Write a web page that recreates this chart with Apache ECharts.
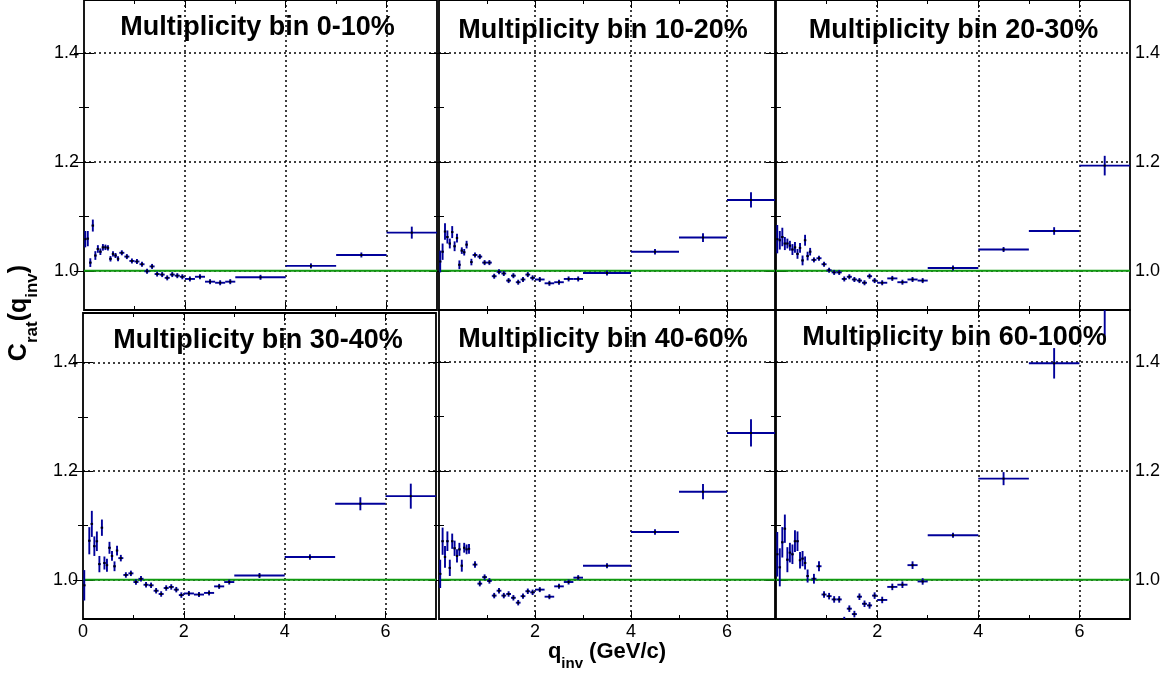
<!DOCTYPE html>
<html>
<head>
<meta charset="utf-8">
<script src="https://cdn.jsdelivr.net/npm/echarts@6/dist/echarts.min.js"></script>
<style>
  html, body { margin: 0; padding: 0; background: #ffffff; }
  #chart { width: 1168px; height: 675px; }
</style>
</head>
<body>
<div id="chart"></div>
<script>
// q_inv bin centres (GeV/c) and bin half-widths
const binCenters = [
  0.025, 0.075, 0.125, 0.175, 0.225, 0.275, 0.325, 0.375, 0.425, 0.475, 0.525, 0.575, 0.625, 0.675,
  0.75, 0.85, 0.95, 1.05, 1.15, 1.25, 1.35, 1.45, 1.55, 1.65, 1.75, 1.85, 1.95,
  2.1, 2.3, 2.5, 2.7, 2.9,
  3.5, 4.5, 5.5, 6.5
];
const binHalfWidths = [
  0.025, 0.025, 0.025, 0.025, 0.025, 0.025, 0.025, 0.025, 0.025, 0.025, 0.025, 0.025, 0.025, 0.025,
  0.05, 0.05, 0.05, 0.05, 0.05, 0.05, 0.05, 0.05, 0.05, 0.05, 0.05, 0.05, 0.05,
  0.1, 0.1, 0.1, 0.1, 0.1,
  0.5, 0.5, 0.5, 0.5
];

// C_rat(q_inv) per multiplicity bin, with statistical errors
const crat0to10 = [
  1.058, 1.059, 1.015, 1.083, 1.028, 1.040, 1.035, 1.043, 1.043, 1.042, 1.022, 1.031, 1.028, 1.022,
  1.033, 1.026, 1.018, 1.017, 1.012, 0.999, 1.008, 0.994, 0.993, 0.987, 0.993, 0.991, 0.989,
  0.985, 0.989, 0.980, 0.978, 0.980,
  0.988, 1.009, 1.029, 1.070
];
const crat0to10Err = [
  0.015, 0.014, 0.008, 0.011, 0.008, 0.007, 0.006, 0.006, 0.005, 0.005, 0.005, 0.005, 0.004, 0.004,
  0.003, 0.003, 0.003, 0.003, 0.003, 0.003, 0.003, 0.003, 0.003, 0.003, 0.003, 0.003, 0.003,
  0.002, 0.002, 0.002, 0.002, 0.002,
  0.001, 0.002, 0.004, 0.011
];

const crat10to20 = [
  1.017, 1.035, 1.072, 1.062, 1.050, 1.071, 1.045, 1.060, 1.011, 1.037, 1.034, 1.048, null, 1.016,
  1.029, 1.026, 1.015, 1.015, 0.990, 0.998, 0.995, 0.982, 0.991, 0.979, 0.984, 0.993, 0.987,
  0.984, 0.977, 0.979, 0.985, 0.985,
  0.996, 1.035, 1.061, 1.130
];
const crat10to20Err = [
  0.020, 0.015, 0.015, 0.012, 0.009, 0.011, 0.009, 0.008, 0.008, 0.006, 0.006, 0.007, 0.006, 0.006,
  0.004, 0.004, 0.004, 0.004, 0.004, 0.004, 0.004, 0.004, 0.004, 0.004, 0.004, 0.004, 0.004,
  0.003, 0.003, 0.003, 0.003, 0.003,
  0.002, 0.005, 0.008, 0.014
];

const crat20to30 = [
  1.058, 1.056, 1.062, 1.050, 1.050, 1.046, 1.039, 1.043, 1.031, 1.042, 1.019, 1.056, 1.027, 1.035,
  1.020, 1.023, 1.012, 1.001, 0.997, 0.997, 0.985, 0.989, 0.984, 0.982, 0.978, 0.990, 0.982,
  0.978, 0.986, 0.979, 0.984, 0.982,
  1.005, 1.039, 1.073, 1.193
];
const crat20to30Err = [
  0.026, 0.017, 0.017, 0.012, 0.009, 0.009, 0.010, 0.010, 0.009, 0.009, 0.009, 0.010, 0.008, 0.007,
  0.004, 0.004, 0.004, 0.004, 0.004, 0.004, 0.004, 0.004, 0.004, 0.004, 0.004, 0.004, 0.004,
  0.003, 0.003, 0.003, 0.003, 0.003,
  0.002, 0.004, 0.007, 0.018
];

const crat30to40 = [
  0.990, null, 1.072, 1.103, 1.062, 1.071, 1.029, 1.096, 1.031, 1.027, 1.059, 1.044, 1.025, 1.054,
  1.040, 1.009, 1.012, 0.996, 1.002, 0.991, 0.990, 0.980, 0.974, 0.985, 0.987, 0.982, 0.972,
  0.975, 0.973, 0.976, 0.988, 0.996,
  1.008, 1.042, 1.140, 1.154
];
const crat30to40Err = [
  0.028, 0.025, 0.025, 0.024, 0.018, 0.018, 0.015, 0.015, 0.012, 0.012, 0.011, 0.009, 0.009, 0.009,
  0.006, 0.005, 0.005, 0.005, 0.005, 0.005, 0.005, 0.005, 0.005, 0.005, 0.005, 0.005, 0.005,
  0.004, 0.004, 0.004, 0.004, 0.004,
  0.002, 0.005, 0.012, 0.023
];

const crat40to60 = [
  1.011, 1.071, 1.042, 1.071, 1.022, 1.071, 1.058, 1.044, 1.056, 1.026, 1.059, 1.056, 1.057, null,
  1.028, 0.993, 1.005, 0.998, 0.971, 0.980, 0.971, 0.974, 0.967, 0.958, 0.970, 0.979, 0.977,
  0.982, 0.969, 0.988, 0.996, 1.004,
  1.026, 1.088, 1.162, 1.270
];
const crat40to60Err = [
  0.026, 0.025, 0.020, 0.018, 0.015, 0.014, 0.014, 0.012, 0.012, 0.011, 0.009, 0.009, 0.009, 0.009,
  0.006, 0.005, 0.005, 0.005, 0.005, 0.005, 0.005, 0.005, 0.005, 0.005, 0.005, 0.005, 0.005,
  0.004, 0.004, 0.004, 0.004, 0.004,
  0.002, 0.005, 0.014, 0.025
];

const crat60to100 = [
  1.047, 1.023, 1.069, 1.094, 1.037, 1.050, 1.047, 1.071, 1.071, 1.036, 1.039, 1.031, 1.007, null,
  1.002, 1.025, 0.973, 0.970, 0.964, 0.964, 0.926, 0.947, 0.937, 0.969, 0.956, 0.953, 0.971,
  0.963, 0.987, 0.991, 1.027, 0.997,
  1.082, 1.186, 1.398, 1.505
];
const crat60to100Err = [
  0.041, 0.035, 0.028, 0.026, 0.023, 0.018, 0.018, 0.020, 0.018, 0.015, 0.014, 0.012, 0.012, 0.012,
  0.009, 0.009, 0.006, 0.006, 0.006, 0.006, 0.006, 0.006, 0.006, 0.006, 0.006, 0.006, 0.006,
  0.006, 0.006, 0.006, 0.007, 0.006,
  0.003, 0.012, 0.028, 0.065
];

const panelTitles = [
  'Multiplicity bin 0-10%', 'Multiplicity bin 10-20%', 'Multiplicity bin 20-30%',
  'Multiplicity bin 30-40%', 'Multiplicity bin 40-60%', 'Multiplicity bin 60-100%'
];
const panelValues = [crat0to10, crat10to20, crat20to30, crat30to40, crat40to60, crat60to100];
const panelErrors = [crat0to10Err, crat10to20Err, crat20to30Err, crat30to40Err, crat40to60Err, crat60to100Err];

// axis ticks and labels
const xMajorTicks = [2, 4, 6];
const xMinorTicks = [1, 3, 5];
const xLabelsFirstColumn = [0, 2, 4, 6];
const xLabelsOtherColumns = [2, 4, 6];
const yMajorTicks = [1.0, 1.2, 1.4];
const yMinorTicks = [1.1, 1.3];
const referenceLevel = 1.0;
const qRange = [0, 7];

// pad geometry (pixels) and vertical ranges
const pads = [
  { left: 84,  right: 437,  top: 0,   bottom: 310, yMin: 0.928, yMax: 1.497, labelLeft: true,  labelRight: false, xLabels: null,                tx: 257.5, ty: 28 },
  { left: 439, right: 775,  top: 0,   bottom: 310, yMin: 0.928, yMax: 1.497, labelLeft: false, labelRight: false, xLabels: null,                tx: 603,   ty: 30.5 },
  { left: 776, right: 1130, top: 0,   bottom: 310, yMin: 0.928, yMax: 1.497, labelLeft: false, labelRight: true,  xLabels: null,                tx: 953.5, ty: 30.5 },
  { left: 83,  right: 436,  top: 313, bottom: 619, yMin: 0.928, yMax: 1.491, labelLeft: true,  labelRight: false, xLabels: xLabelsFirstColumn,  tx: 258,   ty: 341 },
  { left: 439, right: 775,  top: 310, bottom: 619, yMin: 0.928, yMax: 1.496, labelLeft: false, labelRight: false, xLabels: xLabelsOtherColumns, tx: 603,   ty: 340 },
  { left: 776, right: 1130, top: 310, bottom: 619, yMin: 0.928, yMax: 1.496, labelLeft: false, labelRight: true,  xLabels: xLabelsOtherColumns, tx: 954.5, ty: 338 }
];

const FONT = '"Liberation Sans", Arial, Helvetica, sans-serif';
const POINT_COLOR = '#00009a';
const tickStyle = { color: '#000', width: 1 };
const dotted = { color: '#000', width: 1.5, type: [2, 3] };
const labelStyle = { color: '#000', fontFamily: FONT, fontSize: 18 };

function renderErrorPoint(params, api) {
  const q = api.value(0), v = api.value(1), ey = api.value(2), ex = api.value(3);
  const c = api.coord([q, v]);
  const l = api.coord([q - ex, v]);
  const r = api.coord([q + ex, v]);
  const t = api.coord([q, v + ey]);
  const b = api.coord([q, v - ey]);
  const halfV = Math.max(2.5, (b[1] - t[1]) / 2);
  const style = { stroke: POINT_COLOR, lineWidth: 1.9 };
  return {
    type: 'group',
    children: [
      { type: 'line', shape: { x1: l[0], y1: c[1], x2: r[0], y2: c[1] }, style: style },
      { type: 'line', shape: { x1: c[0], y1: c[1] - halfV, x2: c[0], y2: c[1] + halfV }, style: style },
      { type: 'rect', shape: { x: c[0] - 1, y: c[1] - 1, width: 2, height: 2 }, style: { fill: '#000' } }
    ]
  };
}

const grids = [], xAxes = [], yAxes = [], series = [];

pads.forEach(function (pd, p) {
  const rect = { left: pd.left, top: pd.top, width: pd.right - pd.left, height: pd.bottom - pd.top };
  grids.push(Object.assign({}, rect, { show: true, borderColor: '#000', borderWidth: 1.8, backgroundColor: 'transparent', containLabel: false, outerBoundsMode: 'none' }));
  grids.push(Object.assign({}, rect, { show: false, containLabel: false, outerBoundsMode: 'none' }));
  const gMain = 2 * p, gMinor = 2 * p + 1;

  const xBase = { type: 'value', min: qRange[0], max: qRange[1], axisLine: { show: false }, splitLine: { show: false }, axisLabel: { show: false } };
  // bottom major ticks, grid lines and labels
  xAxes.push(Object.assign({}, xBase, {
    gridIndex: gMain, position: 'bottom',
    axisTick: { show: true, inside: true, length: 8, customValues: xMajorTicks, lineStyle: tickStyle },
    splitLine: { show: true, lineStyle: dotted },
    axisLabel: pd.xLabels ? Object.assign({ show: true, margin: 4, customValues: pd.xLabels }, labelStyle) : { show: false }
  }));
  // top major ticks
  xAxes.push(Object.assign({}, xBase, {
    gridIndex: gMain, position: 'top',
    axisTick: { show: true, inside: true, length: 8, customValues: xMajorTicks, lineStyle: tickStyle }
  }));
  // minor ticks, bottom and top
  xAxes.push(Object.assign({}, xBase, {
    gridIndex: gMinor, position: 'bottom',
    axisTick: { show: true, inside: true, length: 4, customValues: xMinorTicks, lineStyle: tickStyle }
  }));
  xAxes.push(Object.assign({}, xBase, {
    gridIndex: gMinor, position: 'top',
    axisTick: { show: true, inside: true, length: 4, customValues: xMinorTicks, lineStyle: tickStyle }
  }));

  const yBase = { type: 'value', min: pd.yMin, max: pd.yMax, axisLine: { show: false }, splitLine: { show: false }, axisLabel: { show: false } };
  const yLabel = function (show) {
    return show ? Object.assign({ show: true, margin: 5, customValues: yMajorTicks, formatter: function (v) { return v.toFixed(1); } }, labelStyle) : { show: false };
  };
  yAxes.push(Object.assign({}, yBase, {
    gridIndex: gMain, position: 'left',
    axisTick: { show: true, inside: true, length: 10, customValues: yMajorTicks, lineStyle: tickStyle },
    splitLine: { show: true, lineStyle: dotted },
    axisLabel: yLabel(pd.labelLeft)
  }));
  yAxes.push(Object.assign({}, yBase, {
    gridIndex: gMain, position: 'right',
    axisTick: { show: true, inside: true, length: 10, customValues: yMajorTicks, lineStyle: tickStyle },
    axisLabel: yLabel(pd.labelRight)
  }));
  yAxes.push(Object.assign({}, yBase, {
    gridIndex: gMinor, position: 'left',
    axisTick: { show: true, inside: true, length: 5, customValues: yMinorTicks, lineStyle: tickStyle }
  }));
  yAxes.push(Object.assign({}, yBase, {
    gridIndex: gMinor, position: 'right',
    axisTick: { show: true, inside: true, length: 5, customValues: yMinorTicks, lineStyle: tickStyle }
  }));

  // unity reference line
  series.push({
    type: 'line', xAxisIndex: 4 * p, yAxisIndex: 4 * p,
    data: [[qRange[0], referenceLevel], [qRange[1], referenceLevel]],
    symbol: 'none', silent: true, z: 3,
    lineStyle: { color: '#119a11', width: 2 }
  });

  // data points with error bars
  const vals = panelValues[p], errs = panelErrors[p];
  const pts = [];
  binCenters.forEach(function (q, i) {
    if (vals[i] !== null) pts.push([q, vals[i], errs[i], binHalfWidths[i]]);
  });
  series.push({
    type: 'custom', xAxisIndex: 4 * p, yAxisIndex: 4 * p,
    data: pts, renderItem: renderErrorPoint, clip: true, silent: true, z: 4
  });
});

// text layout helper for titles with subscripts
const measureCtx = document.createElement('canvas').getContext('2d');
function textWidth(str, font) { measureCtx.font = font; return measureCtx.measureText(str).width; }
function subscriptTitle(pieces, x, y, rotation) {
  // pieces: [text, fontSize, baseline shift]
  let w = 0;
  const items = pieces.map(function (pc) {
    const font = 'bold ' + pc[1] + 'px ' + FONT;
    const it = { text: pc[0], font: font, x: w, y: pc[2] - 0.3465 * pc[1] };
    w += textWidth(pc[0], font);
    return it;
  });
  return {
    type: 'group', x: x, y: y, rotation: rotation || 0,
    children: items.map(function (it) {
      return { type: 'text', x: it.x - w / 2, y: it.y, style: { text: it.text, font: it.font, fill: '#000', align: 'left', verticalAlign: 'middle' } };
    })
  };
}

const graphics = pads.map(function (pd, p) {
  return {
    type: 'text', x: pd.tx, y: pd.ty, z: 10,
    style: { text: panelTitles[p], font: 'bold 27px ' + FONT, fill: '#000', align: 'center', verticalAlign: 'middle' }
  };
});
graphics.push(subscriptTitle([['q', 22, 0], ['inv', 15, 9], [' (GeV/c)', 22, 0]], 607, 660, 0));
graphics.push(subscriptTitle([['C', 25, 0], ['rat', 17, 10], ['(q', 25, 0], ['inv', 17, 10], [')', 25, 0]], 28, 313, Math.PI / 2));

const chart = echarts.init(document.getElementById('chart'), null, { renderer: 'canvas' });
chart.setOption({
  backgroundColor: '#ffffff',
  animation: false,
  grid: grids,
  xAxis: xAxes,
  yAxis: yAxes,
  series: series,
  graphic: graphics
});
</script>
</body>
</html>
